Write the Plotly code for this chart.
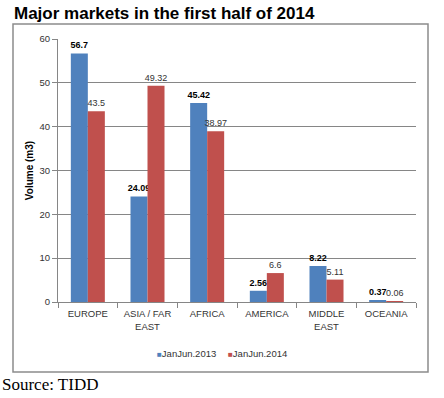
import plotly.graph_objects as go

categories = ["EUROPE", "ASIA / FAR<br>EAST", "AFRICA", "AMERICA", "MIDDLE<br>EAST", "OCEANIA"]
series_names = ["JanJun.2013", "JanJun.2014"]
series_colors = ["#4F81BD", "#C0504D"]
values_2013 = [56.7, 24.09, 45.42, 2.56, 8.22, 0.37]
values_2014 = [43.5, 49.32, 38.97, 6.6, 5.11, 0.06]
labels_2013 = ["56.7", "24.09", "45.42", "2.56", "8.22", "0.37"]
labels_2014 = ["43.5", "49.32", "38.97", "6.6", "5.11", "0.06"]

W, H = 444, 398
L, R, T, B = 58, 416, 39, 302

def px(x):
    return (x - L) / (R - L)

def py(y):
    return (B - y) / (B - T)

fig = go.Figure()
fig.add_trace(go.Bar(
    x=categories, y=values_2013, name=series_names[0],
    marker=dict(color=series_colors[0], line=dict(width=0)),
    text=labels_2013, textposition="outside", cliponaxis=False, constraintext="none",
    textfont=dict(family="Arial", size=9, color="#000000"),
    texttemplate="<b>%{text}</b>",
))
fig.add_trace(go.Bar(
    x=categories, y=values_2014, name=series_names[1],
    marker=dict(color=series_colors[1], line=dict(width=0)),
    text=labels_2014, textposition="outside", cliponaxis=False, constraintext="none",
    textfont=dict(family="Arial", size=9, color="#333333"),
))

legend_annotations = []
for name, color, x0 in zip(series_names, series_colors, [155, 226]):
    legend_annotations.append(dict(
        text=f'<span style="color:{color};font-size:8px">■</span>{name}',
        xref="paper", yref="paper", x=px(x0), y=py(353),
        xanchor="left", yanchor="middle", showarrow=False,
        font=dict(family="Arial", size=9.5, color="#333333")))

fig.update_layout(
    width=W, height=H,
    margin=dict(l=L, r=W - R, t=T, b=H - B),
    paper_bgcolor="white", plot_bgcolor="white",
    barmode="group", bargap=0.43, bargroupgap=0,
    font=dict(family="Arial", size=9, color="#333333"),
    showlegend=False,
    xaxis=dict(showline=True, linecolor="#868686", linewidth=1, ticks="outside",
               tickson="boundaries", ticklen=5, tickcolor="#868686",
               tickfont=dict(family="Arial", size=9.5, color="#333333"),
               ticklabelstandoff=3,
               showgrid=False, automargin=False),
    yaxis=dict(range=[0, 60], dtick=10, showline=True, linecolor="#868686", linewidth=1,
               ticks="outside", ticklen=5, tickcolor="#868686",
               showgrid=True, gridcolor="#868686", gridwidth=1,
               tickfont=dict(family="Arial", size=9.5, color="#333333"),
               zeroline=False, automargin=False,
               title=dict(text="<b>Volume (m3)</b>", font=dict(family="Arial", size=10, color="#000000"), standoff=4)),
    shapes=[dict(type="rect", xref="paper", yref="paper",
                 x0=px(13), x1=px(428), y0=py(372), y1=py(24),
                 line=dict(color="#8c8c8c", width=1.5), layer="below")],
    annotations=[
        dict(text="<b>Major markets in the first half of 2014</b>", xref="paper", yref="paper",
             x=px(12), y=py(13), xanchor="left", yanchor="middle", showarrow=False,
             font=dict(family="Arial", size=17, color="#000000")),
        dict(text="Source: TIDD", xref="paper", yref="paper",
             x=px(0), y=py(384), xanchor="left", yanchor="middle", showarrow=False,
             font=dict(family="Liberation Serif", size=17, color="#000000")),
    ] + legend_annotations,
)

fig.write_html("out.html", config={"displayModeBar": False},
               post_script="document.body.style.margin='0';")
